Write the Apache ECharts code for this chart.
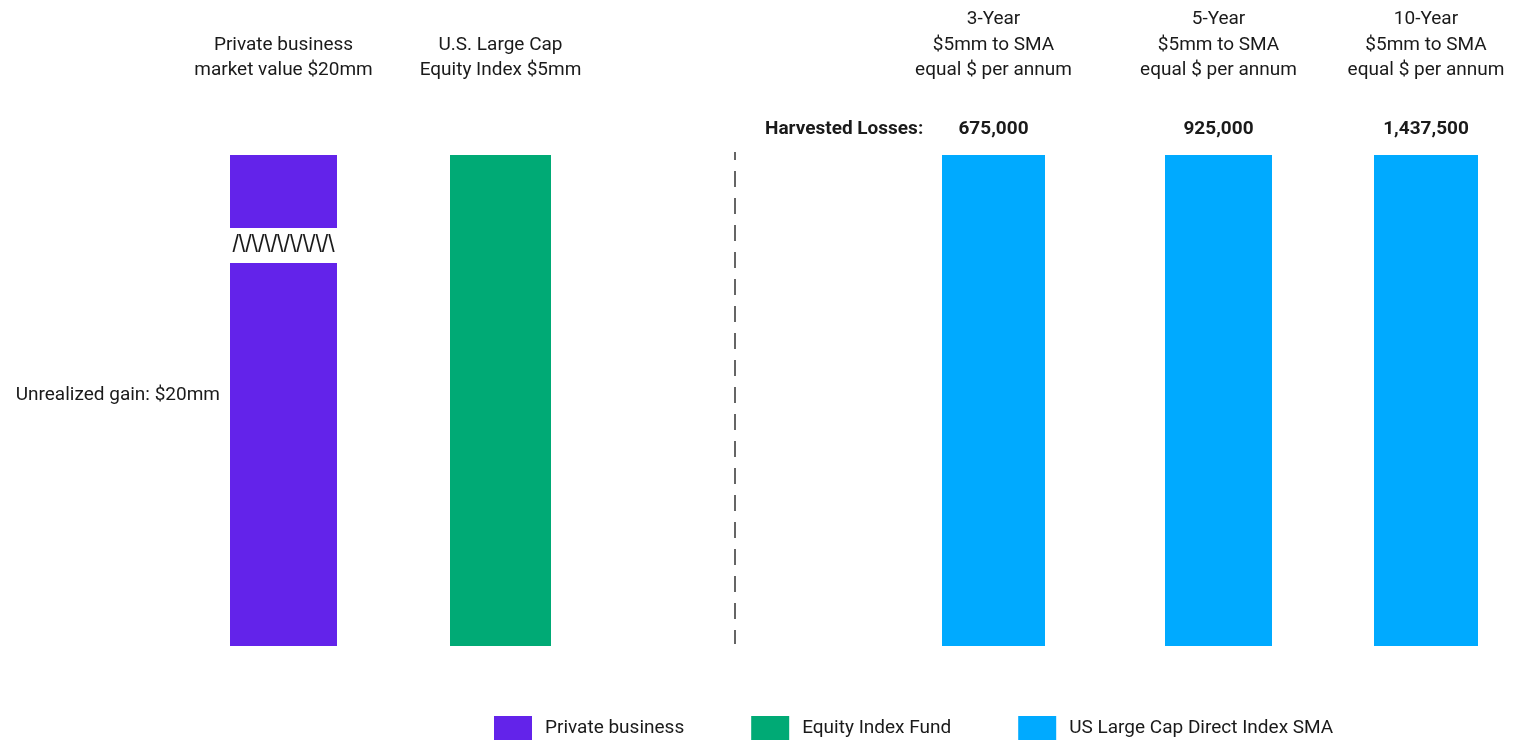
<!DOCTYPE html>
<html>
<head>
<meta charset="utf-8">
<script src="https://cdn.jsdelivr.net/npm/echarts@6/dist/echarts.min.js"></script>
<style>
  html, body { margin: 0; padding: 0; background: #fff; }
  #main { width: 1522px; height: 740px; }
</style>
</head>
<body>
<div id="main"></div>
<script>
// bar labels (shown above each bar)
var categories = [
  'Private business\nmarket value $20mm',
  'U.S. Large Cap\nEquity Index $5mm',
  '3-Year\n$5mm to SMA\nequal $ per annum',
  '5-Year\n$5mm to SMA\nequal $ per annum',
  '10-Year\n$5mm to SMA\nequal $ per annum'
];
var holdingsMM = [20, 5, 5, 5, 5];               // $mm
var harvestedLosses = [null, null, 675000, 925000, 1437500];
var seriesNames = ['Private business', 'Equity Index Fund', 'US Large Cap Direct Index SMA'];
var seriesOfBar = [0, 1, 2, 2, 2];
var unrealizedGain = 'Unrealized gain: $20mm';
var breakMark = '/\\/\\/\\/\\/\\/\\/\\/\\';

// layout only
var colors = ['#6323ea', '#00aa75', '#00aaff'];
var boxes = [
  { left: 230, width: 107 },
  { left: 450, width: 101 },
  { left: 942, width: 103 },
  { left: 1165, width: 107 },
  { left: 1374, width: 104 }
];
var FONT = 'Roboto, "Noto Sans", sans-serif';
var TXT = '#1a1a1a';

var grids = [], xAxes = [], yAxes = [], series = [];
boxes.forEach(function (b, i) {
  grids.push({ left: b.left, width: b.width, top: 155, height: 491 });
  xAxes.push({
    type: 'category', gridIndex: i, position: 'top',
    data: [categories[i]],
    axisLine: { show: false }, axisTick: { show: false },
    axisLabel: { fontFamily: FONT, fontSize: 19, lineHeight: 25.5, color: TXT, margin: 72, align: 'center' }
  });
  var isPrivate = i === 0;
  yAxes.push({
    type: 'value', gridIndex: i, min: 0, max: isPrivate ? 20 : 5,
    axisLine: { show: false }, axisTick: { show: false }, axisLabel: { show: false },
    splitLine: { show: false },
    name: isPrivate ? unrealizedGain : '',
    nameLocation: 'middle', nameRotate: 0, nameGap: 10,
    nameTextStyle: { fontFamily: FONT, fontSize: 19, color: TXT, align: 'right', verticalAlign: 'bottom', lineHeight: 11 }
  });
  var s = {
    type: 'bar',
    name: seriesNames[seriesOfBar[i]],
    xAxisIndex: i, yAxisIndex: i,
    barWidth: '100%',
    itemStyle: { color: colors[seriesOfBar[i]] },
    data: [holdingsMM[i]],
    label: {
      show: harvestedLosses[i] != null,
      position: 'top', distance: 16,
      fontFamily: FONT, fontSize: 19, fontWeight: 'bold', color: TXT,
      formatter: function () { return harvestedLosses[i].toLocaleString('en-US'); }
    }
  };
  if (isPrivate) {
    // scale break drawn over the tall private business bar
    s.markArea = {
      z: 5, silent: true,
      itemStyle: { color: '#fff' },
      label: {
        show: true, position: 'inside', formatter: breakMark,
        fontFamily: '"Liberation Sans", Arial, sans-serif', fontSize: 23, color: TXT
      },
      data: [[{ yAxis: 15.6 }, { yAxis: 17.03 }]]
    };
  }
  series.push(s);
});

var chart = echarts.init(document.getElementById('main'));
chart.setOption({
  animation: false,
  textStyle: { fontFamily: FONT },
  grid: grids,
  xAxis: xAxes,
  yAxis: yAxes,
  legend: {
    data: seriesNames,
    left: 489, top: 711,
    icon: 'rect', itemWidth: 38, itemHeight: 24, itemGap: 67,
    textStyle: { fontFamily: FONT, fontSize: 19, color: TXT, padding: [0, 0, 0, 8] }
  },
  graphic: [
    {
      type: 'line', silent: true,
      shape: { x1: 735, y1: 152, x2: 735, y2: 644 },
      style: { stroke: '#333', lineWidth: 1.5, lineDash: [16, 11], lineDashOffset: 8 }
    },
    {
      type: 'text', left: 765, top: 120, silent: true,
      style: { text: 'Harvested Losses:', fontFamily: FONT, fontSize: 19, fontWeight: 'bold', fill: TXT }
    }
  ],
  series: series
});
</script>
</body>
</html>
